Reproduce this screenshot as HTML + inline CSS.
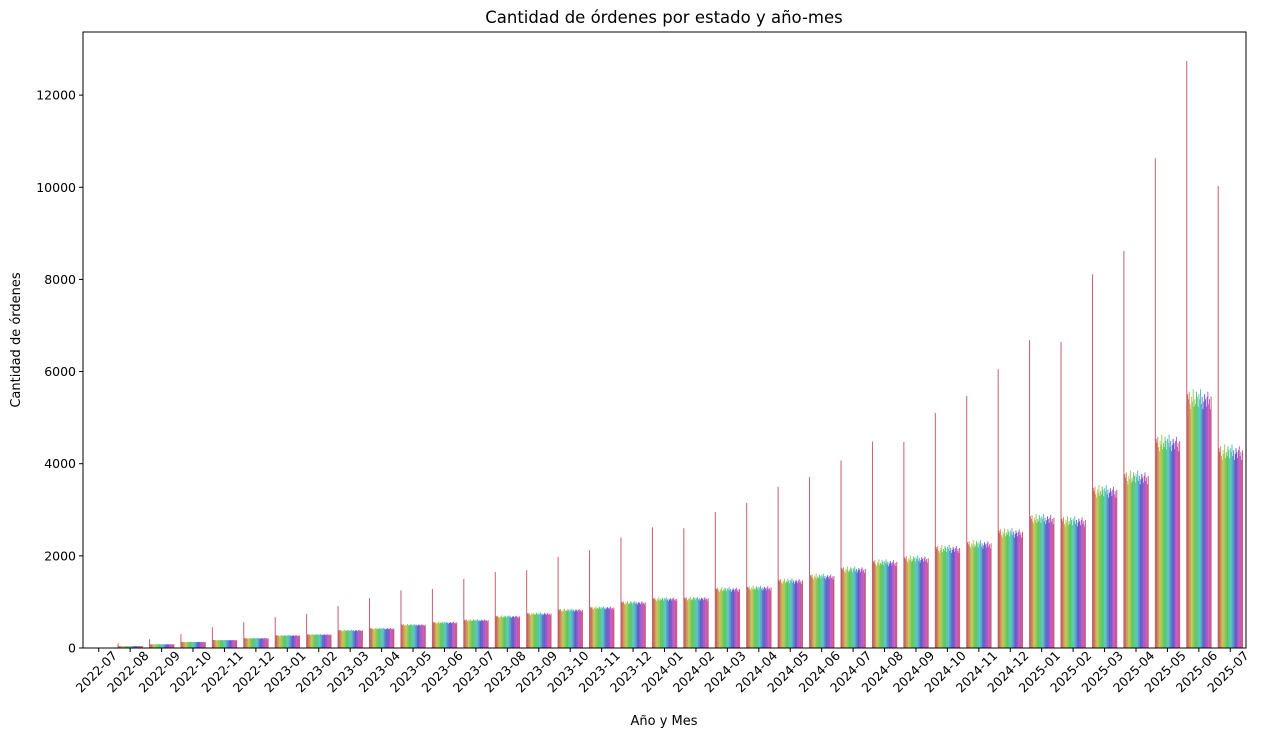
<!DOCTYPE html>
<html><head><meta charset="utf-8"><style>
body{margin:0;background:#fff;font-family:"Liberation Sans","DejaVu Sans",sans-serif}
svg text{font-family:"DejaVu Sans","Liberation Sans",sans-serif}
</style></head><body>
<svg id="chart" width="1265" height="738" xmlns="http://www.w3.org/2000/svg">
<text x="664" y="23" font-size="16.5" text-anchor="middle">Cantidad de órdenes por estado y año-mes</text>
<g id="bars"></g>
<g id="axes"></g>
<rect x="83" y="32" width="1163" height="616" fill="none" stroke="#000" stroke-width="1"/>
<text x="664" y="725" font-size="13" text-anchor="middle">Año y Mes</text>
<text transform="translate(20,340) rotate(-90)" font-size="13" text-anchor="middle">Cantidad de órdenes</text>
</svg>
<script>
const categories=["2022-07","2022-08","2022-09","2022-10","2022-11","2022-12","2023-01","2023-02","2023-03","2023-04","2023-05","2023-06","2023-07","2023-08","2023-09","2023-10","2023-11","2023-12","2024-01","2024-02","2024-03","2024-04","2024-05","2024-06","2024-07","2024-08","2024-09","2024-10","2024-11","2024-12","2025-01","2025-02","2025-03","2025-04","2025-05","2025-06","2025-07"];
const spikeValues=[5,100,190,300,450,560,670,740,910,1080,1250,1280,1500,1650,1690,1980,2120,2400,2620,2600,2950,3150,3500,3710,4070,4480,4470,5100,5470,6050,6680,6640,8110,8620,10630,12740,10030];
const baseValues=[2,40,80,130,170,210,270,290,380,420,500,550,600,680,740,820,870,980,1060,1070,1270,1300,1450,1550,1700,1850,1930,2150,2250,2500,2800,2750,3400,3700,4450,5400,4250];
const hueOffsets=[0.02,0.0,0.03,-0.02,-0.04,0.01,-0.01,0.04,-0.03,0.0,-0.02,0.03,0.01,-0.03,0.02,0.0,0.04,-0.02,0.01,-0.04,-0.01,0.02,0.0,-0.03,0.01,0.03,-0.02,0.0,-0.04,0.01];
const yTicks=[0,2000,4000,6000,8000,10000,12000];
const L=83,R=1246,T=32,B=648,yMax=13370;
const band=(R-L)/categories.length;
const xPos=i=>L+(i+0.5)*band;
const yPos=v=>B-v/yMax*(B-T);
const NS="http://www.w3.org/2000/svg";
const bars=document.getElementById('bars'),axes=document.getElementById('axes');
const nH=hueOffsets.length+1,gw=band*0.8,bw=gw/nH;
function color(k){const h=(352+k*360/nH)%360;return `hsl(${h},50%,56%)`;}
categories.forEach((c,i)=>{
  const x0=xPos(i)-gw/2;
  for(let k=0;k<nH;k++){
    const v=k===0?spikeValues[i]:baseValues[i]*(1+hueOffsets[k-1]);
    const r=document.createElementNS(NS,'rect');
    
    
    r.setAttribute('x',x0+k*bw);r.setAttribute('width',bw+0.15);
    r.setAttribute('y',yPos(v));r.setAttribute('height',B-yPos(v));
    r.setAttribute('fill',color(k));
    bars.appendChild(r);
  }
  const t=document.createElementNS(NS,'line');
  
  
  t.setAttribute('x1',xPos(i));t.setAttribute('x2',xPos(i));t.setAttribute('y1',B);t.setAttribute('y2',B+4);t.setAttribute('stroke','#000');
  axes.appendChild(t);
  const l=document.createElementNS(NS,'text');
  
  
  l.setAttribute('font-size','12.5');l.setAttribute('text-anchor','middle');
  l.setAttribute('transform',`translate(${xPos(i)-2},${B+24}) rotate(-45)`);
  l.setAttribute('dy','4');
  l.textContent=c;axes.appendChild(l);
});
yTicks.forEach(v=>{
  const t=document.createElementNS(NS,'line');
  
  
  t.setAttribute('x1',L-4);t.setAttribute('x2',L);t.setAttribute('y1',yPos(v));t.setAttribute('y2',yPos(v));t.setAttribute('stroke','#000');
  axes.appendChild(t);
  const l=document.createElementNS(NS,'text');
  
  
  l.setAttribute('font-size','12.5');l.setAttribute('text-anchor','end');
  l.setAttribute('x',L-7);l.setAttribute('y',yPos(v)+4.5);
  l.textContent=v;axes.appendChild(l);
});
</script>
</body></html>
